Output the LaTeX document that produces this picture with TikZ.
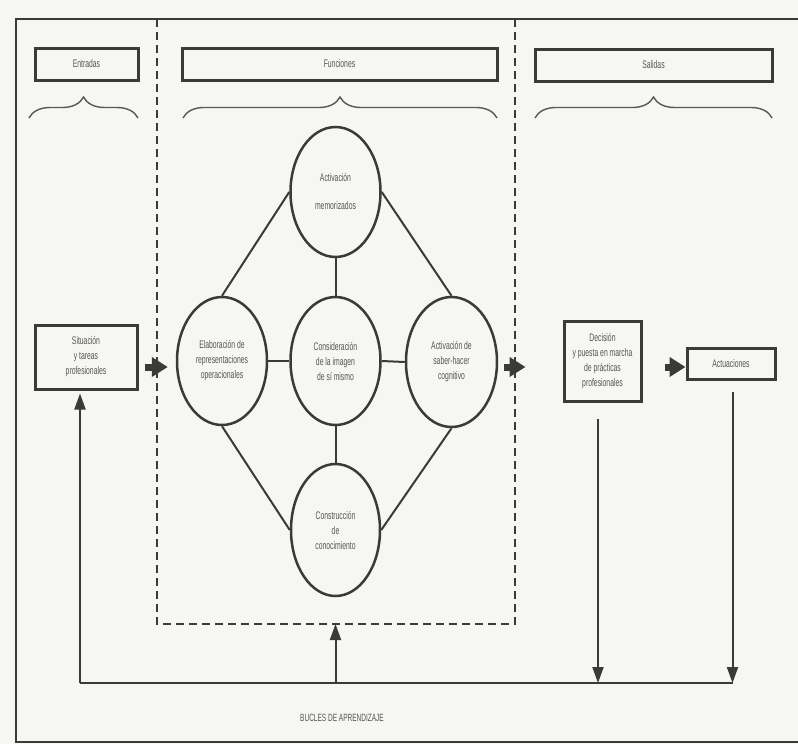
\documentclass[tikz,border=0pt]{standalone}
\usepackage{fontspec}
\setmainfont{Liberation Sans}[FakeStretch=0.62]
\usetikzlibrary{arrows.meta,shapes.geometric,decorations.pathreplacing}
\definecolor{paper}{RGB}{246,246,243}
\definecolor{ink}{RGB}{58,58,58}
\definecolor{txt}{RGB}{85,85,85}
\begin{document}
\begin{tikzpicture}[x=1pt,y=-1pt,
  label text/.style={font=\fontsize{11}{15}\selectfont,text=txt,align=center},
  box/.style={draw=ink,line width=3pt,rectangle,inner sep=0pt,label text},
  bubble/.style={draw=ink,line width=2.5pt,ellipse,minimum width=90pt,minimum height=128pt,inner sep=0pt,label text},
  link/.style={draw=ink,line width=2pt},
  bigarrow/.style={draw=ink,line width=7pt,-{Triangle[length=16pt,width=19pt]}},
  loopline/.style={draw=ink,line width=2pt},
  looparrow/.style={loopline,-{Triangle[length=16pt,width=11pt]}},
  bracket/.style={draw=ink!85,line width=1.4pt,decorate,decoration={brace,amplitude=21pt}},
  frameline/.style={draw=ink,line width=2.5pt},
  dashframe/.style={draw=ink,line width=2.7pt,dash pattern=on 8pt off 5pt}]

% paper and page size
\fill[paper] (0,0) rectangle (798,744);
\useasboundingbox (0,0) rectangle (798,744);

% outer frame (open on the right) and the dashed "Funciones" zone
\draw[frameline] (798,19) -- (16,19) -- (16,742) -- (798,742);
\draw[dashframe] (157,19) -- (157,624) -- (515,624) -- (515,19);
\coordinate (zonebottom) at (335.5,624);

% column headers
\node[box,minimum width=103pt,minimum height=32pt] (ent) at (86.5,64) {Entradas};
\node[box,minimum width=315pt,minimum height=32pt] (fun) at (339.5,64) {Funciones};
\node[box,minimum width=237pt,minimum height=32pt] (sal) at (653.5,65) {Salidas};

% braces under the headers
\draw[bracket] (29,118) -- (138,118);
\draw[bracket] (183,118) -- (497,118);
\draw[bracket] (535,118) -- (772,118);

% inputs / outputs
\node[box,minimum width=102pt,minimum height=64pt] (sit) at (86,357)
  {Situación\\y tareas\\profesionales};
\node[box,minimum width=77pt,minimum height=80pt] (dec) at (602.5,361)
  {Decisión\\y puesta en marcha\\de prácticas\\profesionales};
\node[box,minimum width=88pt,minimum height=31pt] (act) at (731,363.5) {Actuaciones};

% functions
\node[bubble,minimum height=130pt] (mem) at (335.5,192) {Activación\\[13pt]memorizados};
\node[bubble] (ela) at (222,361) {Elaboración de\\representaciones\\operacionales};
\node[bubble] (con) at (335.5,361) {Consideración\\de la imagen\\de sí mismo};
\node[bubble,minimum width=91pt,minimum height=130pt] (sab) at (451.5,362) {Activación de\\saber-hacer\\cognitivo};
\node[bubble,minimum width=89pt,minimum height=132pt] (cog) at (335.5,530) {Construcción\\de\\conocimiento};

% links between the functions
\draw[link] (mem.west) -- (ela.north);
\draw[link] (mem.east) -- (sab.north);
\draw[link] (mem.south) -- (con.north);
\draw[link] (ela.east) -- (con.west);
\draw[link] (con.east) -- (sab.west);
\draw[link] (ela.south) -- (cog.west);
\draw[link] (sab.south) -- (cog.east);
\draw[link] (con.south) -- (cog.north);

% main flow
\coordinate (arow) at (0,367);
\draw[bigarrow,shorten <=6pt,shorten >=8pt] (sit.east |- arow) -- (ela.west |- arow);
\draw[bigarrow,shorten <=6pt,shorten >=37pt] (sab.east |- arow) -- (dec.west |- arow);
\draw[bigarrow,shorten <=22pt] (dec.east |- arow) -- (act.west |- arow);

% learning loops
\coordinate (loopL) at (80,683);
\coordinate (loopR) at (733,683);
\coordinate (sitin) at ([xshift=-6pt]sit.south);
\coordinate (decout) at ([xshift=-4.5pt]dec.south);
\coordinate (actout) at ([xshift=1.5pt]act.south);
\draw[loopline] (loopL) -- (loopR);
\draw[looparrow,shorten >=3pt] (loopL) -- (sitin);
\draw[looparrow] (zonebottom |- loopL) -- (zonebottom);
\draw[looparrow,shorten <=16pt] (decout) -- (decout |- loopR);
\draw[looparrow,shorten <=11pt] (actout) -- (actout |- loopR);

\node[label text,font=\fontsize{10.5}{12}\selectfont] (bucles) at (342,718) {BUCLES DE APRENDIZAJE};
\end{tikzpicture}
\end{document}
